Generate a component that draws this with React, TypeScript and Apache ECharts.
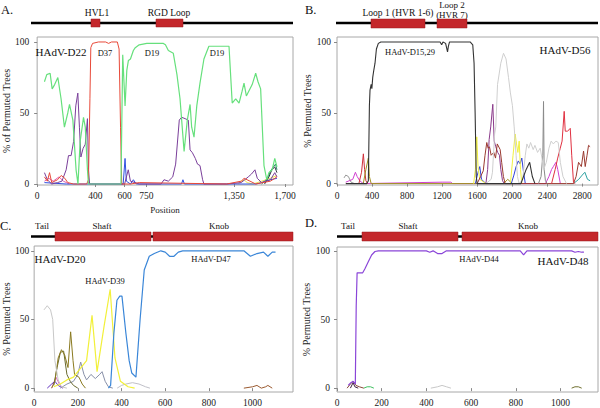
import React, { useEffect, useRef } from "react";
import * as echarts from "echarts";

type P = [number, number];

// ---------- Panel A (HAdV-D22) ----------
const aXTicks = [0, 400, 600, 750, 1350, 1700];
const aGreen: P[] = [[50,72],[66,77],[89,78],[103,67],[120,70],[142,75],[164,60],[187,40],[210,50],[222,56],[245,45],[267,10],[280,0],[295,30],[306,38],[318,47],[330,40],[345,10],[352,0],[400,0],[500,0],[575,0],[587,91],[603,55],[615,80],[626,87],[640,88],[660,94],[673,96],[700,98],[752,99],[800,99],[866,99],[880,98],[900,94],[934,92],[959,77],[980,60],[1008,23],[1030,45],[1049,56],[1060,40],[1076,33],[1095,55],[1117,71],[1144,88],[1178,97],[1220,97],[1316,97],[1338,57],[1362,60],[1385,57],[1405,65],[1419,71],[1435,62],[1455,66],[1475,70],[1499,78],[1515,72],[1533,67],[1556,13],[1575,3],[1590,8],[1612,10],[1630,18],[1645,12]];
const aRed: P[] = [[50,5],[70,2],[85,8],[100,1],[140,3],[165,6],[190,4],[210,1],[250,0],[340,0],[352,3],[362,60],[368,96],[380,99],[420,100],[470,100],[490,99],[510,100],[550,100],[562,95],[572,40],[580,0],[640,0],[700,1],[1300,0],[1400,2],[1420,4],[1460,2],[1500,0],[1600,2],[1645,5]];
const aPurple: P[] = [[50,8],[70,3],[100,0],[140,1],[170,2],[199,10],[215,20],[233,20],[250,30],[265,55],[279,64],[290,40],[300,19],[315,25],[330,28],[345,46],[352,10],[360,0],[600,0],[625,10],[640,2],[700,0],[850,0],[870,3],[900,2],[930,5],[950,14],[975,45],[991,47],[1015,46],[1037,45],[1049,24],[1065,22],[1085,18],[1100,14],[1117,13],[1135,3],[1144,0],[1300,0],[1400,1],[1448,5],[1470,7],[1494,10],[1510,4],[1540,1],[1600,3],[1630,8],[1645,5]];
const aBlue: P[] = [[50,1],[200,0],[590,0],[603,18],[612,2],[640,0],[660,3],[680,0],[990,0],[1000,3],[1010,0],[1500,0],[1540,1],[1600,3],[1645,4]];
const aTeal: P[] = [[1540,0],[1580,4],[1600,9],[1620,12],[1635,14],[1645,10]];
const aDark: P[] = [[1560,0],[1590,5],[1610,10],[1630,12],[1645,8]];
const aYellow: P[] = [[1380,0],[1400,2],[1420,3],[1440,1],[1480,0],[1600,4],[1645,6]];
const aPink: P[] = [[50,2],[80,4],[110,2],[150,5],[180,2],[220,0]];

// ---------- Panel B (HAdV-D56) ----------
const bXTicks = [0, 400, 800, 1200, 1600, 2000, 2400, 2800];
const bBlack: P[] = [[100,0],[340,0],[358,2],[370,55],[377,66],[390,70],[398,67],[408,75],[420,80],[434,85],[450,95],[472,99],[500,100],[700,100],[1000,100],[1177,100],[1195,98],[1210,100],[1240,99],[1262,93],[1272,97],[1285,100],[1400,100],[1520,100],[1550,98],[1565,85],[1577,50],[1590,5],[1600,0],[1700,0],[2100,0],[2160,10],[2200,15],[2230,5],[2260,0]];
const bLightGray: P[] = [[1700,0],[1760,3],[1775,8],[1800,35],[1813,40],[1833,70],[1870,85],[1901,92],[1930,88],[1958,75],[1980,64],[2003,55],[2023,40],[2045,20],[2060,5],[2080,0],[2120,3],[2150,20],[2168,28],[2190,25],[2210,29],[2240,24],[2260,27],[2290,22],[2320,25],[2340,18],[2360,10],[2390,15],[2420,25],[2445,30],[2470,28],[2500,30],[2526,29],[2550,15],[2580,5],[2620,0]];
const bDarkGray: P[] = [[2300,0],[2330,5],[2350,20],[2358,58],[2365,10],[2380,2],[2400,0]];
const bCrimson: P[] = [[2450,0],[2491,10],[2520,18],[2549,25],[2570,30],[2594,51],[2606,37],[2630,37],[2650,38],[2663,39],[2680,20],[2700,1],[2720,0]];
const bBrown: P[] = [[1600,0],[1640,5],[1670,9],[1690,20],[1710,29],[1725,25],[1741,26],[1760,20],[1790,22],[1810,18],[1830,28],[1863,24],[1880,15],[1900,5],[1920,0],[2700,0],[2730,5],[2758,15],[2790,12],[2815,23],[2834,12],[2855,20],[2872,27],[2890,26]];
const bPurple: P[] = [[1700,0],[1720,10],[1737,31],[1755,40],[1779,56],[1795,30],[1813,26],[1835,22],[1855,20],[1870,10],[1890,2],[1910,0]];
const bYellow: P[] = [[1560,0],[1580,10],[1596,33],[1610,12],[1630,3],[1700,0],[1980,0],[2010,20],[2034,35],[2050,28],[2065,22],[2080,30],[2095,10],[2110,0]];
const bBlue: P[] = [[1580,0],[1610,8],[1630,12],[1650,3],[1700,0],[1990,0],[2020,6],[2045,12],[2070,16],[2090,14],[2110,18],[2130,8],[2150,0]];
const bMagenta: P[] = [[100,1],[180,3],[210,8],[230,5],[260,2],[300,0],[1200,1],[1300,1],[1320,0],[2380,0],[2420,5],[2450,10],[2470,12],[2500,15],[2520,10],[2550,0]];
const bRed: P[] = [[250,0],[280,8],[301,21],[315,10],[330,2],[350,0]];
const bOlive: P[] = [[300,0],[330,10],[358,18],[370,5],[390,0],[1900,0],[1950,3],[2000,0]];
const bTeal: P[] = [[2700,0],[2760,3],[2800,6],[2830,8],[2860,3],[2890,2]];
const bGrayLeft: P[] = [[80,4],[100,6],[130,5],[160,1],[200,0]];

// ---------- Panel C (HAdV-D20) ----------
const cXTicks = [0, 200, 400, 600, 800, 1000];
const cBlue: P[] = [[340,0],[350,2],[365,40],[379,64],[392,67],[402,67],[420,40],[435,20],[447,11],[466,8],[485,50],[504,86],[527,96],[550,98],[580,100],[600,99],[620,96],[640,96],[660,99],[680,100],[960,100],[990,96],[1020,98],[1050,99],[1070,96],[1090,99],[1105,99]];
const cYellow: P[] = [[90,1],[120,3],[150,6],[180,8],[210,14],[240,20],[265,53],[288,12],[320,45],[348,72],[370,22],[395,5],[430,1],[460,0]];
const cLightGray: P[] = [[45,57],[60,60],[75,57],[85,50],[95,20],[110,6],[125,1],[150,0]];
const cOlive: P[] = [[80,0],[95,5],[110,22],[125,28],[140,24],[155,15],[167,41],[178,20],[185,10],[205,8],[220,3],[235,0]];
const cOlive2: P[] = [[90,2],[105,15],[120,26],[135,27],[150,10],[165,5],[180,2],[200,0]];
const cSlate: P[] = [[120,0],[150,3],[180,5],[200,10],[213,19],[228,10],[240,6],[260,10],[280,7],[300,10],[311,12],[325,5],[340,1],[360,0]];
const cGray2: P[] = [[380,0],[400,2],[420,3],[450,4],[480,3],[510,1],[530,0]];
const cPurple: P[] = [[60,0],[80,3],[95,5],[110,2],[130,0]];
const cPink: P[] = [[80,0],[100,8],[115,3],[130,0]];
const cBrown: P[] = [[960,0],[1000,1],[1020,2],[1040,0],[1060,1],[1070,2],[1090,0]];

// ---------- Panel D (HAdV-D48) ----------
const dXTicks = [0, 200, 400, 600, 800, 1000];
const dPurple: P[] = [[50,2],[62,4],[72,5],[82,3],[86,60],[90,84],[115,84],[125,87],[140,92],[155,97],[170,99.5],[185,100],[400,100],[415,99],[430,100],[450,98],[470,98],[490,100],[820,100],[835,97],[850,100],[1050,100],[1065,99],[1080,99.5],[1095,99],[1105,99]];
const dBrown: P[] = [[45,0],[60,3],[72,5],[85,2],[100,1],[120,0]];
const dDark: P[] = [[60,0],[72,4],[80,1],[95,0]];
const dGreen: P[] = [[120,0],[135,1],[150,1],[165,0]];
const dGray: P[] = [[420,0],[450,1],[470,2],[490,1],[510,0]];
const dOlive: P[] = [[1050,0],[1065,1],[1080,1],[1095,0]];

const yTicks = [0, 50, 100];
const FONT = "'Liberation Serif', 'DejaVu Serif', serif";
const RED = "#c4272b";

export default function App() {
  const ref = useRef<HTMLDivElement>(null);
  useEffect(() => {
    if (!ref.current) return;
    const chart = echarts.init(ref.current, undefined, { renderer: "svg" });

    const grids = [
      { left: 37, top: 37, width: 256, height: 148 },
      { left: 337, top: 37, width: 261, height: 148 },
      { left: 31, top: 246, width: 262, height: 151 },
      { left: 337, top: 247, width: 261, height: 150 },
    ].map((g) => ({ ...g, show: true, borderColor: "#a8a8a8", borderWidth: 1, backgroundColor: "transparent" }));

    const xCfg = [
      { min: 0, max: 1755, ticks: aXTicks, name: "Position" },
      { min: 0, max: 2980, ticks: bXTicks, name: "" },
      { min: 0, max: 1185, ticks: cXTicks, name: "" },
      { min: 0, max: 1168, ticks: dXTicks, name: "" },
    ];
    const yCfg = [
      { min: -0.7, max: 103.5, name: "% of Permuted Trees", margin: 8 },
      { min: -1, max: 103.5, name: "% Permuted Trees", margin: 6 },
      { min: -2.8, max: 103.5, name: "% Permuted Trees", margin: 5 },
      { min: -2.8, max: 102.8, name: "% Permuted Trees", margin: 7 },
    ];

    const xAxis = xCfg.map((c, i) => ({
      type: "value",
      gridIndex: i,
      min: c.min,
      max: c.max,
      name: c.name,
      nameLocation: "middle",
      nameGap: 20,
      nameTextStyle: { fontFamily: FONT, fontSize: 9, color: "#222" },
      axisLine: { show: false },
      axisTick: { show: true, length: 3, inside: false, customValues: c.ticks, lineStyle: { color: "#888" } },
      axisLabel: {
        customValues: c.ticks,
        fontFamily: FONT,
        fontSize: 9.5,
        color: "#222",
        margin: 6,
        formatter: (v: number) => (i === 0 && v >= 1000 ? v.toLocaleString("en-US") : String(v)),
      },
      splitLine: { show: false },
    }));
    const yAxis = yCfg.map((c, i) => ({
      type: "value",
      gridIndex: i,
      min: c.min,
      max: c.max,
      name: c.name,
      nameLocation: "middle",
      nameGap: 20,
      nameTextStyle: { fontFamily: FONT, fontSize: 10, color: "#222" },
      axisLine: { show: false },
      axisTick: { show: true, length: 3, customValues: yTicks, lineStyle: { color: "#888" } },
      axisLabel: { customValues: yTicks, fontFamily: FONT, fontSize: 9.5, color: "#222", margin: c.margin },
      splitLine: { show: false },
    }));

    const mk = (g: number, data: P[], color: string, width = 1, z = 2) => ({
      type: "line",
      xAxisIndex: g,
      yAxisIndex: g,
      data,
      showSymbol: false,
      symbol: "none",
      lineStyle: { color, width },
      z,
      silent: true,
    });

    const series = [
      mk(0, aPink, "#e060b0"),
      mk(0, aYellow, "#f2e04a"),
      mk(0, aBlue, "#3050e0"),
      mk(0, aTeal, "#2a8a6a"),
      mk(0, aDark, "#334"),
      mk(0, aPurple, "#7a3f9a"),
      mk(0, aRed, "#e84a3a", 1, 3),
      mk(0, aGreen, "#66e07c", 1.2, 4),

      mk(1, bGrayLeft, "#999"),
      mk(1, bMagenta, "#d040d0"),
      mk(1, bRed, "#d0303a"),
      mk(1, bOlive, "#a09020"),
      mk(1, bTeal, "#2aa0a0"),
      mk(1, bBlue, "#3040d8"),
      mk(1, bYellow, "#f0f040"),
      mk(1, bPurple, "#8a3a8a"),
      mk(1, bBrown, "#9a3a30"),
      mk(1, bCrimson, "#e03040"),
      mk(1, bDarkGray, "#8a8a8a"),
      mk(1, bLightGray, "#cfcfcf"),
      mk(1, bBlack, "#333", 1.1, 4),

      mk(2, cBrown, "#9a5a30"),
      mk(2, cPink, "#e070c0"),
      mk(2, cPurple, "#6030c0"),
      mk(2, cGray2, "#c0c0c8"),
      mk(2, cSlate, "#8890a8"),
      mk(2, cOlive2, "#6a6a30"),
      mk(2, cOlive, "#8a7a20"),
      mk(2, cLightGray, "#c8c8c8"),
      mk(2, cYellow, "#f2f03a", 1.2),
      mk(2, cBlue, "#3a86d8", 1.2, 4),

      mk(3, dOlive, "#707030"),
      mk(3, dGray, "#c8c8c8"),
      mk(3, dGreen, "#40c060"),
      mk(3, dBrown, "#8a4a3a"),
      mk(3, dDark, "#402040"),
      mk(3, dPurple, "#8a45d8", 1.2, 4),
    ];

    const txt = (text: string, x: number, y: number, size: number, align = "center") => ({
      type: "text",
      z: 10,
      style: {
        text,
        x,
        y,
        fill: "#111",
        font: `${size}px ${FONT}`,
        textAlign: align,
        textVerticalAlign: "middle",
        align,
        verticalAlign: "middle",
      },
    });
    const rect = (x: number, y: number, w: number, h: number) => ({
      type: "rect",
      z: 9,
      shape: { x, y, width: w, height: h },
      style: { fill: RED, stroke: "#9a1a1e", lineWidth: 0.5 },
    });
    const hline = (x1: number, x2: number, y: number) => ({
      type: "line",
      z: 8,
      shape: { x1, y1: y, x2, y2: y },
      style: { stroke: "#000", lineWidth: 2.5 },
    });

    const graphic = [
      // panel letters
      txt("A.", 1, 10, 12.5, "left"),
      txt("B.", 305, 10, 12.5, "left"),
      txt("C.", 0, 226, 12.5, "left"),
      txt("D.", 305, 223, 12.5, "left"),
      // A top bar
      hline(31, 293, 23),
      rect(91, 19, 9, 8),
      rect(156, 19, 27, 8),
      txt("HVL1", 97, 13, 9.5),
      txt("RGD Loop", 169, 13, 9.5),
      // B top bar
      hline(336, 598, 23),
      rect(371, 19, 54, 9),
      rect(437, 19, 30, 9),
      txt("Loop 1 (HVR 1-6)", 398, 13, 9.5),
      txt("Loop 2", 452, 5, 9),
      txt("(HVR 7)", 452, 14.5, 9),
      // C top bar
      hline(31, 153, 236.5),
      rect(55, 232, 96, 9),
      rect(153, 232, 140, 9),
      txt("Tail", 42, 226, 9),
      txt("Shaft", 102, 226, 9),
      txt("Knob", 219, 226, 9),
      // D top bar
      hline(337, 462, 236.5),
      rect(362, 232, 96, 9),
      rect(462, 232, 136, 9),
      txt("Tail", 348, 226, 9),
      txt("Shaft", 408, 226, 9),
      txt("Knob", 528, 226, 9),
      // annotations
      txt("HAdV-D22", 61, 52, 11),
      txt("D37", 105, 53, 8.5),
      txt("D19", 152, 53, 8.5),
      txt("D19", 217, 53, 8.5),
      txt("HAdV-D15,29", 410, 52, 8.5),
      txt("HAdV-D56", 565, 50, 11),
      txt("HAdV-D20", 60, 259, 11),
      txt("HAdV-D39", 105, 281, 8.5),
      txt("HAdV-D47", 211, 259, 8.5),
      txt("HAdV-D44", 479, 259, 8.5),
      txt("HAdV-D48", 563, 261, 11),
    ];

    chart.setOption({
      animation: false,
      backgroundColor: "#fff",
      grid: grids,
      xAxis,
      yAxis,
      series,
      graphic,
    } as any);
    return () => chart.dispose();
  }, []);
  return <div ref={ref} style={{ position: "fixed", left: 0, top: 0, width: 600, height: 408 }} />;
}
